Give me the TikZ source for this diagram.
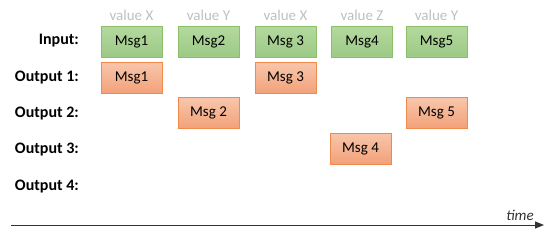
\documentclass[tikz,border=0pt]{standalone}
\usepackage{fontspec}
\setmainfont{Carlito}
\usetikzlibrary{arrows.meta,positioning}
\definecolor{inTop}{HTML}{B5D9A0}
\definecolor{inBot}{HTML}{9CC985}
\definecolor{inLine}{HTML}{8CC068}
\definecolor{outTop}{HTML}{F8C6AB}
\definecolor{outBot}{HTML}{F2A179}
\definecolor{outLine}{HTML}{F08A4B}

\begin{document}
\begin{tikzpicture}[
  x=1pt, y=-1pt,
  msgin/.style={rectangle, draw=inLine, top color=inTop, bottom color=inBot, minimum width=61pt, minimum height=31pt, inner sep=0pt, font=\fontsize{15}{17}\selectfont},
  msgout/.style={rectangle, draw=outLine, top color=outTop, bottom color=outBot, minimum width=61pt, minimum height=31pt, inner sep=0pt, font=\fontsize{15}{17}\selectfont},
  rowlabel/.style={anchor=east, inner sep=0pt, font=\fontsize{16}{18}\selectfont\bfseries},
  keyval/.style={inner sep=0pt, text=black!25, font=\fontsize{15}{17}\selectfont},
  axis/.style={-{Triangle[length=9pt,width=7pt]}, line width=1pt, black!80},
]
  \useasboundingbox (0,0) rectangle (551,239);

  % row labels
  \node[rowlabel] (lin)  at (79,41)  {Input:};
  \node[rowlabel] (lo1)  at (79,78)  {Output 1:};
  \node[rowlabel] (lo2)  at (79,114) {Output 2:};
  \node[rowlabel] (lo3)  at (79,150) {Output 3:};
  \node[rowlabel] (lo4)  at (79,187) {Output 4:};

  % input messages
  \node[msgin] (in1) at (131.5,41.5) {Msg1};
  \node[msgin] (in2) at (208.5,41.5) {Msg2};
  \node[msgin] (in3) at (285.5,41.5) {Msg 3};
  \node[msgin] (in4) at (362,41.5)   {Msg4};
  \node[msgin] (in5) at (436.5,41.5) {Msg5};

  % keys
  \node[keyval, above=5pt of in1] (k1) {value X};
  \node[keyval, above=5pt of in2] (k2) {value Y};
  \node[keyval, above=5pt of in3] (k3) {value X};
  \node[keyval, above=5pt of in4] (k4) {value Z};
  \node[keyval, above=5pt of in5] (k5) {value Y};

  % outputs
  \node[msgout] (o1a) at (131.5,78)  {Msg1};
  \node[msgout] (o1b) at (285.5,78)  {Msg 3};
  \node[msgout] (o2a) at (208.5,113) {Msg 2};
  \node[msgout] (o2b) at (436.5,113) {Msg 5};
  \node[msgout] (o3a) at (360.5,148.5) {Msg 4};

  % time axis
  \coordinate (t0) at (11,225);
  \coordinate (t1) at (544,225);
  \draw[axis] (t0) -- (t1)
    node[pos=0.955, above=1pt, font=\fontsize{15}{17}\selectfont\itshape] (tlab) {time};
\end{tikzpicture}
\end{document}
